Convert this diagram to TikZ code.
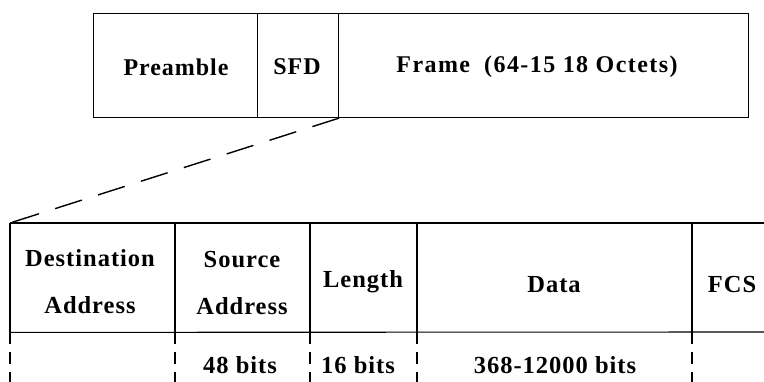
\documentclass[tikz,border=0pt]{standalone}
\usepackage{fontspec}
\setmainfont{Liberation Serif}
\newfontfamily\labfont[LetterSpace=4]{Liberation Serif}
\newfontfamily\widefont[LetterSpace=6]{Liberation Serif}
\begin{document}
\begin{tikzpicture}[x=1pt,y=-1pt,
  topcell/.style={draw, line width=1.1pt, inner sep=0pt, minimum height=104pt, anchor=north west},
  hcell/.style={inner sep=0pt, minimum height=109pt, anchor=north west},
  toptext/.style={font=\labfont\bfseries\fontsize{24}{28}\selectfont, inner sep=0pt},
  widetext/.style={font=\widefont\bfseries\fontsize{24}{28}\selectfont, inner sep=0pt},
  htext/.style={font=\labfont\bfseries\fontsize{24.5}{47}\selectfont, align=center, inner sep=0pt},
  rule/.style={line width=1.1pt},
  zoomline/.style={line width=1.4pt, dash pattern=on 28pt off 17pt},
  colline/.style={line width=1.6pt, dash pattern=on 12pt off 8pt}]
\useasboundingbox (0,0) rectangle (764,382);
% top frame
\node[topcell, minimum width=164pt] (pre) at (93,13) {};
\node[topcell, minimum width=81pt] (sfd) at (257,13) {};
\node[topcell, minimum width=410pt] (frm) at (338,13) {};
\node[toptext] (tpre) at (176,67) {Preamble};
\node[toptext] (tsfd) at (297,67) {SFD};
\node[widetext] (tfrm) at (537,67) {Frame\hspace{14pt}(64-15 18 Octets)};
% bottom header cells
\node[hcell, minimum width=165pt] (dst) at (10,223) {};
\node[hcell, minimum width=135pt] (src) at (175,223) {};
\node[hcell, minimum width=107pt] (len) at (310,223) {};
\node[hcell, minimum width=275pt] (dat) at (417,223) {};
\node[hcell, minimum width=72pt] (fcs) at (692,223) {};
\coordinate (rtop) at (764,223);
\coordinate (rbot) at (764,332);
\draw[rule] (dst.north west) -- (rtop);
\draw[rule] (dst.south west) -- (rbot);
\draw[rule] (dst.north west) -- (dst.south west);
\draw[rule] (src.north west) -- (src.south west);
\draw[rule] (len.north west) -- (len.south west);
\draw[rule] (dat.north west) -- (dat.south west);
\draw[rule] (fcs.north west) -- (fcs.south west);
\node[htext] (tdst) at (90,282) {Destination\\Address};
\node[htext] (tsrc) at (242,283) {Source\\Address};
\node[htext] (tlen) at (363,282) {Length};
\node[htext] (tdat) at (554,285) {Data};
\node[htext] (tfcs) at (732,285) {FCS};
% zoom line
\draw[zoomline] (sfd.south east) -- (dst.north west);
% dashed column lines
\coordinate (b1) at (10,382);
\coordinate (b2) at (175,382);
\coordinate (b3) at (310,382);
\coordinate (b4) at (417,382);
\coordinate (b5) at (692,382);
\draw[colline] (dst.south west) -- (b1);
\draw[colline] (src.south west) -- (b2);
\draw[colline] (len.south west) -- (b3);
\draw[colline] (dat.south west) -- (b4);
\draw[colline] (fcs.south west) -- (b5);
\node[htext] (bsrc) at (240,365) {48 bits};
\node[htext] (blen) at (358,365) {16 bits};
\node[htext] (bdat) at (555,365) {368-12000 bits};
\end{tikzpicture}
\end{document}
